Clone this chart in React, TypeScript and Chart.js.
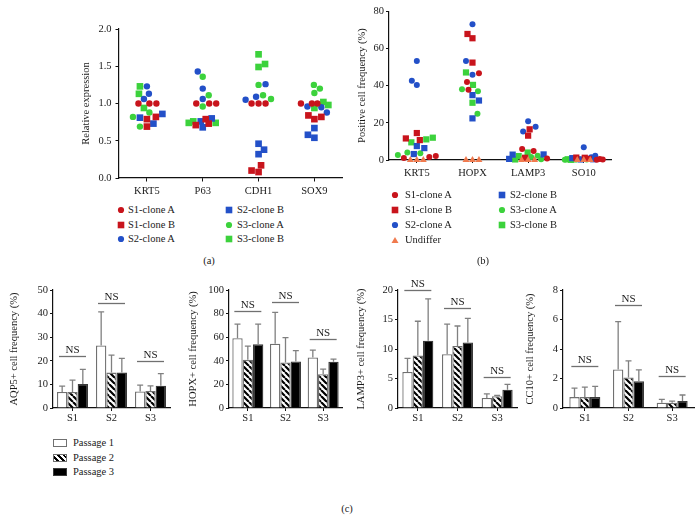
import React, { useEffect, useRef } from 'react';
import { Chart, registerables } from 'chart.js';

Chart.register(...registerables);

const FONT = "'Liberation Serif', 'Times New Roman', serif";
const TXT = '#1a1a1a';
const RED = '#c8141c';
const BLUE = '#2350c8';
const GREEN = '#3cd23c';
const ORANGE = '#f07a4e';

// ---------- Panel (a): relative expression ----------
const exprGenes = ['KRT5', 'P63', 'CDH1', 'SOX9'];
const exprS1A = [[1.0, 1.0, 1.0], [1.0, 1.0, 1.0], [1.0, 1.0, 1.0], [1.0, 1.0, 1.0]];
const exprS1B = [[0.69, 0.82, 0.79], [0.79, 0.73, 0.71], [0.17, 0.08, 0.1], [0.84, 0.79, 0.82]];
const exprS2A = [[1.13, 1.23, 1.06], [1.06, 1.2, 1.43], [1.09, 1.26, 1.05], [0.95, 0.96, 0.88]];
const exprS2B = [[0.86, 0.73, 0.81], [0.8, 0.68, 0.76], [0.46, 0.38, 0.32], [0.67, 0.54, 0.58]];
const exprS3A = [[0.82, 0.69, 0.88], [1.36, 1.11, 0.96], [1.06, 1.25, 1.11], [1.25, 1.2, 1.14]];
const exprS3B = [[1.23, 0.94, 1.13], [0.76, 0.74, 0.74], [1.66, 1.53, 1.49], [1.02, 0.98, 0.94]];

// ---------- Panel (b): positive cell frequency ----------
const freqMarkers = ['KRT5', 'HOPX', 'LAMP3', 'SO10'];
const freqS1A = [[1.6, 1.1, 2.1], [46.7, 41.9, 37.8], [5.9, 4.8, 0.8], [0.5, 0.3, 0.2]];
const freqS1B = [[10.7, 11.6, 14.5], [67.8, 65.5, 52.4], [16.5, 13.1, 1.2], [1.3, 1.2, 0.6]];
const freqS2A = [[53.2, 42.6, 40.3], [73.0, 53.2, 45.8], [20.9, 17.9, 15.4], [6.8, 2.3, 1.5]];
const freqS2B = [[7.5, 6.4, 3.2], [34.9, 32.0, 22.4], [3.0, 2.9, 0.6], [1.0, 0.4, 0.3]];
const freqS3A = [[2.7, 3.6, 4.1], [37.0, 38.1, 24.9], [2.3, 1.6, 0.4], [0.5, 0.3, 0.2]];
const freqS3B = [[12.0, 11.1, 9.5], [47.1, 40.4, 30.8], [4.0, 2.1, 0.3], [0.4, 0.3, 0.1]];
const freqUndiffer = [[0, 0, 0], [0, 0, 0], [0, 0, 0], [0, 0, 0]];

// ---------- Panel (c): passages ----------
const samples = ['S1', 'S2', 'S3'];
const passages = ['Passage 1', 'Passage 2', 'Passage 3'];

const aqp5Mean = [[6.8, 26.5, 7.0], [6.8, 15.0, 7.2], [10.2, 15.0, 9.4]];
const aqp5Sd = [[2.5, 14.2, 2.7], [5.0, 7.4, 2.2], [6.2, 6.0, 5.2]];
const aqp5Ns = [22.0, 44.4, 20.1];

const hopxMean = [[59.2, 54.4, 42.8], [40.8, 38.6, 28.7], [54.1, 39.4, 39.2]];
const hopxSd = [[11.8, 26.7, 6.2], [11.6, 21.1, 4.3], [16.9, 9.3, 2.2]];
const hopxNs = [82.3, 89.9, 58.3];

const lamp3Mean = [[6.1, 9.1, 1.7], [8.9, 10.5, 2.0], [11.4, 11.1, 3.1]];
const lamp3Sd = [[2.3, 5.1, 0.7], [5.8, 3.4, 0.15], [7.1, 4.1, 0.9]];
const lamp3Ns = [20.0, 16.9, 5.3];

const cc10Mean = [[0.74, 2.61, 0.36], [0.74, 2.07, 0.36], [0.74, 1.82, 0.47]];
const cc10Sd = [[0.61, 3.25, 0.23], [0.68, 1.13, 0.11], [0.72, 0.77, 0.41]];
const cc10Ns = [2.82, 7.0, 2.14];

type Shape = 'circle' | 'rect' | 'triangle';
type Series = { label: string; color: string; shape: Shape; values: number[][] };

const exprSeries: Series[] = [
  { label: 'S1-clone A', color: RED, shape: 'circle', values: exprS1A },
  { label: 'S1-clone B', color: RED, shape: 'rect', values: exprS1B },
  { label: 'S2-clone A', color: BLUE, shape: 'circle', values: exprS2A },
  { label: 'S2-clone B', color: BLUE, shape: 'rect', values: exprS2B },
  { label: 'S3-clone A', color: GREEN, shape: 'circle', values: exprS3A },
  { label: 'S3-clone B', color: GREEN, shape: 'rect', values: exprS3B },
];

const freqSeries: Series[] = [
  { label: 'Undiffer', color: ORANGE, shape: 'triangle', values: freqUndiffer },
  { label: 'S1-clone A', color: RED, shape: 'circle', values: freqS1A },
  { label: 'S1-clone B', color: RED, shape: 'rect', values: freqS1B },
  { label: 'S2-clone A', color: BLUE, shape: 'circle', values: freqS2A },
  { label: 'S2-clone B', color: BLUE, shape: 'rect', values: freqS2B },
  { label: 'S3-clone A', color: GREEN, shape: 'circle', values: freqS3A },
  { label: 'S3-clone B', color: GREEN, shape: 'rect', values: freqS3B },
];

type Lay = { x0: number; x1: number; y0: number; y1: number; W: number; H: number; padTop: number; padRight: number; titleX: number };

function boxOf(l: Lay) {
  return {
    left: l.x0 - l.W,
    top: l.y0 - l.padTop,
    width: l.W + (l.x1 - l.x0) + l.padRight,
    height: l.padTop + (l.y1 - l.y0) + l.H,
  };
}

const layA: Lay = { x0: 119, x1: 343, y0: 29, y1: 178, W: 60, H: 24, padTop: 11, padRight: 4, titleX: 86 };
const layB: Lay = { x0: 389, x1: 612, y0: 11, y1: 160, W: 75, H: 24, padTop: 8, padRight: 4, titleX: 362.7 };
const layC1: Lay = { x0: 53, x1: 170, y0: 290, y1: 408, W: 52, H: 20, padTop: 20, padRight: 3, titleX: 14 };
const layC2: Lay = { x0: 229, x1: 342, y0: 290, y1: 408, W: 52, H: 20, padTop: 20, padRight: 3, titleX: 193.3 };
const layC3: Lay = { x0: 398, x1: 517, y0: 290, y1: 408, W: 52, H: 20, padTop: 20, padRight: 3, titleX: 361.7 };
const layC4: Lay = { x0: 563, x1: 694, y0: 290, y1: 408, W: 52, H: 20, padTop: 20, padRight: 1, titleX: 530.7 };

const TICK_FONT = { family: FONT, size: 10.5 };
const TITLE_FONT = { family: FONT, size: 10.5, lineHeight: 1.2 };

function swarmOffsets(vals: number[], pxPerUnit: number, d: number, limit: number): number[] {
  const order = vals.map((_, i) => i).sort((a, b) => vals[a] - vals[b]);
  const placed: { x: number; y: number }[] = [];
  const out = vals.map(() => 0);
  order.forEach((i, n) => {
    const y = vals[i] * pxPerUnit;
    let bestX = 0;
    let bestScore = -Infinity;
    const sgn = n % 2 === 0 ? 1 : -1;
    for (let s = 0; s <= limit; s += 0.5) {
      const cands = s === 0 ? [0] : [sgn * s, -sgn * s];
      let done = false;
      for (const c of cands) {
        let minD = Infinity;
        for (const p of placed) minD = Math.min(minD, Math.hypot(p.x - c, p.y - y));
        if (minD >= d) {
          bestX = c;
          done = true;
          break;
        }
        if (minD > bestScore) {
          bestScore = minD;
          bestX = c;
        }
      }
      if (done) break;
    }
    placed.push({ x: bestX, y });
    out[i] = bestX;
  });
  return out;
}

function yAxisCommon(l: Lay, title: string, min: number, max: number, step: number, decimals: number, tickLen: number, tickPad: number) {
  return {
    min,
    max,
    afterFit: (s: any) => {
      s.width = l.W;
    },
    ticks: {
      stepSize: step,
      font: TICK_FONT,
      color: TXT,
      padding: tickPad,
      callback: (v: any) => Number(v).toFixed(decimals),
    },
    grid: { drawOnChartArea: false, drawTicks: true, tickLength: tickLen, color: '#111', lineWidth: 1 },
    border: { display: true, color: '#111', width: 1.2 },
    title: {
      display: true,
      text: title,
      font: TITLE_FONT,
      color: TXT,
      padding: { top: l.titleX - (l.x0 - l.W) - (10.5 * 1.2) / 2, bottom: 0 },
    },
  };
}

function scatterConfig(
  cats: string[],
  series: Series[],
  l: Lay,
  yMin: number,
  yMax: number,
  step: number,
  decimals: number,
  yTitle: string,
  d: number,
  limit: number,
  sizes: { circle: number; rect: number; triangle: number },
  tickLen: number,
  yTickPad: number,
  xTickPad: number
): any {
  const pxY = (l.y1 - l.y0) / (yMax - yMin);
  const catW = (l.x1 - l.x0) / cats.length;
  const offs = series.map((s) => s.values.map((row) => row.map(() => 0)));
  cats.forEach((_, c) => {
    const flat: { s: number; k: number; v: number }[] = [];
    series.forEach((s, si) => s.values[c].forEach((v, k) => flat.push({ s: si, k, v })));
    const o = swarmOffsets(flat.map((f) => f.v), pxY, d, limit);
    flat.forEach((f, n) => {
      offs[f.s][c][f.k] = o[n];
    });
  });
  const datasets = series.map((s, si) => ({
    label: s.label,
    data: s.values.flatMap((row, c) => row.map((v, k) => ({ x: c + offs[si][c][k] / catW, y: v }))),
    pointStyle: s.shape,
    pointRadius: sizes[s.shape],
    pointHoverRadius: sizes[s.shape],
    backgroundColor: s.color,
    borderColor: s.color,
    borderWidth: 0,
    showLine: false,
    clip: false,
  }));
  return {
    type: 'scatter',
    data: { datasets },
    options: {
      responsive: false,
      animation: false,
      devicePixelRatio: 1,
      events: [],
      layout: { padding: { top: l.padTop, right: l.padRight, left: 0, bottom: 0 } },
      plugins: { legend: { display: false }, tooltip: { enabled: false } },
      scales: {
        x: {
          type: 'linear',
          min: -0.5,
          max: cats.length - 0.5,
          afterBuildTicks: (ax: any) => {
            ax.ticks = cats.map((_, i) => ({ value: i }));
          },
          afterFit: (s: any) => {
            s.height = l.H;
          },
          ticks: {
            autoSkip: false,
            maxRotation: 0,
            font: TICK_FONT,
            color: TXT,
            padding: xTickPad,
            callback: (v: any) => cats[Math.round(Number(v))] ?? '',
          },
          grid: { drawOnChartArea: false, drawTicks: true, tickLength: tickLen, color: '#111', lineWidth: 1 },
          border: { display: true, color: '#111', width: 1.2 },
        },
        y: yAxisCommon(l, yTitle, yMin, yMax, step, decimals, tickLen, yTickPad),
      },
    },
  };
}

function hatchPattern(): CanvasPattern | string {
  const s = 6;
  const c = document.createElement('canvas');
  c.width = s;
  c.height = s;
  const g = c.getContext('2d');
  if (!g) return '#888';
  g.fillStyle = '#fff';
  g.fillRect(0, 0, s, s);
  g.strokeStyle = '#000';
  g.lineWidth = 2.2;
  g.beginPath();
  for (const o of [-s, 0, s]) {
    g.moveTo(o, 0);
    g.lineTo(o + s, s);
  }
  g.stroke();
  return g.createPattern(c, 'repeat') || '#888';
}

function barConfig(l: Lay, means: number[][], sds: number[][], ns: number[], yMax: number, step: number, yTitle: string): any {
  const catW = (l.x1 - l.x0) / samples.length;
  const cp = 31 / catW;
  const fills = ['#ffffff', hatchPattern(), '#000000'];
  const borders = ['#707070', '#707070', '#3a3a3a'];
  const datasets = passages.map((p, i) => ({
    label: p,
    data: means[i],
    backgroundColor: fills[i],
    borderColor: borders[i],
    borderWidth: 1.3,
    categoryPercentage: cp,
    barPercentage: 1,
  }));
  const errPlugin = {
    id: 'errbars',
    afterDatasetsDraw(chart: any) {
      const ctx = chart.ctx;
      const ys = chart.scales.y;
      ctx.save();
      ctx.strokeStyle = '#808080';
      ctx.lineWidth = 1.3;
      chart.data.datasets.forEach((ds: any, i: number) => {
        const meta = chart.getDatasetMeta(i);
        meta.data.forEach((el: any, j: number) => {
          const top = ys.getPixelForValue(ds.data[j] + sds[i][j]);
          ctx.beginPath();
          ctx.moveTo(el.x, el.y);
          ctx.lineTo(el.x, top);
          ctx.moveTo(el.x - 3, top);
          ctx.lineTo(el.x + 3, top);
          ctx.stroke();
        });
      });
      ctx.restore();
    },
  };
  const nsPlugin = {
    id: 'nslines',
    afterDatasetsDraw(chart: any) {
      const ctx = chart.ctx;
      const ys = chart.scales.y;
      const m0 = chart.getDatasetMeta(0);
      const m2 = chart.getDatasetMeta(2);
      ctx.save();
      ns.forEach((lv, j) => {
        const b0 = m0.data[j];
        const b2 = m2.data[j];
        const xl = b0.x - b0.width / 2 + 2;
        const xr = b2.x + b2.width / 2 - 2;
        const yy = Math.round(ys.getPixelForValue(lv)) + 0.5;
        ctx.strokeStyle = '#707070';
        ctx.lineWidth = 1.3;
        ctx.beginPath();
        ctx.moveTo(xl, yy);
        ctx.lineTo(xr, yy);
        ctx.stroke();
        ctx.fillStyle = TXT;
        ctx.font = `11px ${FONT}`;
        ctx.textAlign = 'center';
        ctx.textBaseline = 'alphabetic';
        ctx.fillText('NS', (xl + xr) / 2, yy - 4);
      });
      ctx.restore();
    },
  };
  return {
    type: 'bar',
    data: { labels: samples, datasets },
    plugins: [errPlugin, nsPlugin],
    options: {
      responsive: false,
      animation: false,
      devicePixelRatio: 1,
      events: [],
      layout: { padding: { top: l.padTop, right: l.padRight, left: 0, bottom: 0 } },
      plugins: { legend: { display: false }, tooltip: { enabled: false } },
      scales: {
        x: {
          type: 'category',
          offset: true,
          afterFit: (s: any) => {
            s.height = l.H;
          },
          ticks: { font: TICK_FONT, color: TXT, padding: 1, maxRotation: 0, autoSkip: false },
          grid: { offset: false, drawOnChartArea: false, drawTicks: true, tickLength: 3, color: '#111', lineWidth: 1 },
          border: { display: true, color: '#111', width: 1.2 },
        },
        y: yAxisCommon(l, yTitle, 0, yMax, step, 0, 3, 2),
      },
    },
  };
}

function ChartBox({ lay, make }: { lay: Lay; make: () => any }) {
  const ref = useRef<HTMLCanvasElement>(null);
  const b = boxOf(lay);
  useEffect(() => {
    if (!ref.current) return;
    const chart = new Chart(ref.current, make());
    return () => chart.destroy();
  }, []);
  return (
    <canvas
      ref={ref}
      width={b.width}
      height={b.height}
      style={{ position: 'absolute', left: b.left, top: b.top, width: b.width, height: b.height }}
    />
  );
}

function Marker({ shape, color, size }: { shape: Shape | 'bar1' | 'bar2' | 'bar3'; color: string; size?: number }) {
  if (shape === 'circle') {
    return (
      <svg width={8} height={8} style={{ display: 'block' }}>
        <circle cx={4} cy={4} r={3.1} fill={color} />
      </svg>
    );
  }
  if (shape === 'rect') {
    return (
      <svg width={8} height={8} style={{ display: 'block' }}>
        <rect x={0.7} y={0.7} width={6.6} height={6.6} fill={color} />
      </svg>
    );
  }
  if (shape === 'triangle') {
    return (
      <svg width={8} height={8} style={{ display: 'block' }}>
        <polygon points="4,1 7.5,7 0.5,7" fill={color} />
      </svg>
    );
  }
  return null;
}

function ScatterLegend({ cols, rows }: { cols: { markerX: number; textX: number; items: Series[] }[]; rows: number[] }) {
  return (
    <>
      {cols.map((col, ci) =>
        col.items.map((s, ri) => (
          <React.Fragment key={`${ci}-${ri}`}>
            <div style={{ position: 'absolute', left: col.markerX - 4, top: rows[ri] - 4 }}>
              <Marker shape={s.shape} color={s.color} />
            </div>
            <div
              style={{
                position: 'absolute',
                left: col.textX,
                top: rows[ri] - 7,
                lineHeight: '14px',
                fontSize: 10.5,
                fontFamily: FONT,
                color: TXT,
                whiteSpace: 'nowrap',
              }}
            >
              {s.label}
            </div>
          </React.Fragment>
        ))
      )}
    </>
  );
}

function Label({ x, y, text }: { x: number; y: number; text: string }) {
  return (
    <div
      style={{
        position: 'absolute',
        left: x - 20,
        width: 40,
        top: y - 7,
        lineHeight: '14px',
        textAlign: 'center',
        fontSize: 10.5,
        fontFamily: FONT,
        color: TXT,
      }}
    >
      {text}
    </div>
  );
}

export default function App() {
  const byLabel = (arr: Series[], lab: string) => arr.find((s) => s.label === lab)!;
  const legendA = [
    { markerX: 121, textX: 128, items: ['S1-clone A', 'S1-clone B', 'S2-clone A'].map((l) => byLabel(exprSeries, l)) },
    { markerX: 229, textX: 237, items: ['S2-clone B', 'S3-clone A', 'S3-clone B'].map((l) => byLabel(exprSeries, l)) },
  ];
  const legendB = [
    { markerX: 395, textX: 405, items: ['S1-clone A', 'S1-clone B', 'S2-clone A', 'Undiffer'].map((l) => byLabel(freqSeries, l)) },
    { markerX: 502, textX: 510, items: ['S2-clone B', 'S3-clone A', 'S3-clone B'].map((l) => byLabel(freqSeries, l)) },
  ];
  const passageRows = [443.3, 457.7, 472];
  const passageSwatch = [
    { background: '#fff', border: '1.3px solid #707070' },
    {
      background: 'repeating-linear-gradient(45deg, #fff 0px, #fff 2px, #000 2px, #000 4px)',
      border: '1.3px solid #707070',
    },
    { background: '#000', border: '1.3px solid #3a3a3a' },
  ];
  return (
    <div style={{ position: 'absolute', left: 0, top: 0, width: 695, height: 515, background: '#fff', overflow: 'hidden' }}>
      <ChartBox
        lay={layA}
        make={() =>
          scatterConfig(exprGenes, exprSeries, layA, 0, 2, 0.5, 1, 'Relative expression', 7, 16, { circle: 3.2, rect: 4.7, triangle: 4 }, 3.5, 4, 3)
        }
      />
      <ChartBox
        lay={layB}
        make={() =>
          scatterConfig(freqMarkers, freqSeries, layB, 0, 80, 20, 0, 'Positive cell frequency (%)', 6.5, 19, { circle: 3, rect: 4.4, triangle: 4 }, 3, 2, 4)
        }
      />
      <ChartBox lay={layC1} make={() => barConfig(layC1, aqp5Mean, aqp5Sd, aqp5Ns, 50, 10, 'AQP5+ cell frequency (%)')} />
      <ChartBox lay={layC2} make={() => barConfig(layC2, hopxMean, hopxSd, hopxNs, 100, 20, 'HOPX+ cell frequency (%)')} />
      <ChartBox lay={layC3} make={() => barConfig(layC3, lamp3Mean, lamp3Sd, lamp3Ns, 20, 5, 'LAMP3+ cell frequency (%)')} />
      <ChartBox lay={layC4} make={() => barConfig(layC4, cc10Mean, cc10Sd, cc10Ns, 8, 2, 'CC10+ cell frequency (%)')} />

      <ScatterLegend cols={legendA} rows={[210, 224.7, 239.3]} />
      <ScatterLegend cols={legendB} rows={[195, 210, 224.5, 239.5]} />

      {passages.map((p, i) => (
        <React.Fragment key={p}>
          <div
            style={{
              position: 'absolute',
              left: 53,
              top: passageRows[i] - 4,
              width: 14,
              height: 8,
              boxSizing: 'border-box',
              ...passageSwatch[i],
            }}
          />
          <div
            style={{
              position: 'absolute',
              left: 73,
              top: passageRows[i] - 7,
              lineHeight: '14px',
              fontSize: 10.5,
              fontFamily: FONT,
              color: TXT,
              whiteSpace: 'nowrap',
            }}
          >
            {p}
          </div>
        </React.Fragment>
      ))}

      <Label x={209} y={261} text="(a)" />
      <Label x={483} y={261} text="(b)" />
      <Label x={347} y={509} text="(c)" />
    </div>
  );
}
